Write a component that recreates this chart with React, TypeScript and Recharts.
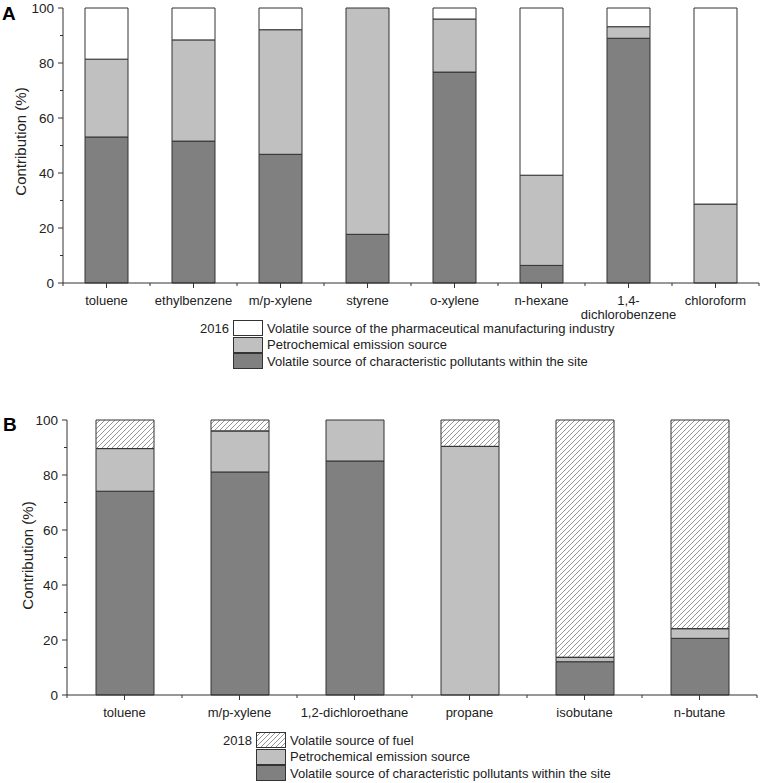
import React from "react";
import { BarChart, Bar, XAxis, YAxis } from "recharts";

// panel A (2016)
const categoriesA = [
  "toluene",
  "ethylbenzene",
  "m/p-xylene",
  "styrene",
  "o-xylene",
  "n-hexane",
  "1,4-\ndichlorobenzene",
  "chloroform",
];
const siteA = [53.1, 51.6, 46.8, 17.7, 76.7, 6.4, 89.0, 0];
const petroA = [28.3, 36.8, 45.3, 82.3, 19.3, 32.8, 4.2, 28.7];
const pharmaA = [18.6, 11.6, 7.9, 0, 4.0, 60.8, 6.8, 71.3];

// panel B (2018)
const categoriesB = [
  "toluene",
  "m/p-xylene",
  "1,2-dichloroethane",
  "propane",
  "isobutane",
  "n-butane",
];
const siteB = [74.1, 81.1, 85.1, 0, 12.1, 20.6];
const petroB = [15.5, 14.9, 14.9, 90.4, 1.6, 3.5];
const fuelB = [10.4, 4.0, 0, 9.6, 86.3, 75.9];

const yTicks = [0, 10, 20, 30, 40, 50, 60, 70, 80, 90, 100];

const legendA = [
  "Volatile source of the pharmaceutical manufacturing industry",
  "Petrochemical emission source",
  "Volatile source of characteristic pollutants within the site",
];
const legendB = [
  "Volatile source of fuel",
  "Petrochemical emission source",
  "Volatile source of characteristic pollutants within the site",
];

const FONT = '"Liberation Sans", Arial, sans-serif';
const AXIS = "#333";
const DARK = "#808080";
const LIGHT = "#c0c0c0";
const HATCH = "#8a8a8a";

const dataA = categoriesA.map((name, i) => ({
  name,
  site: siteA[i],
  petro: petroA[i],
  top: pharmaA[i],
}));
const dataB = categoriesB.map((name, i) => ({
  name,
  site: siteB[i],
  petro: petroB[i],
  top: fuelB[i],
}));

const makeXTick = (count: number) => (props: any) => {
  const { x, y, payload, index } = props;
  const half = payload.offset ?? 0;
  const lines = String(payload.value).split("\n");
  return (
    <g>
      <line x1={x} x2={x} y1={y} y2={y + 5} stroke={AXIS} />
      <line x1={x - half} x2={x - half} y1={y} y2={y + 3} stroke={AXIS} />
      {index === count - 1 && (
        <line x1={x + half} x2={x + half} y1={y} y2={y + 3} stroke={AXIS} />
      )}
      <text x={x} y={y + 22} textAnchor="middle" fontSize={13} fill="#222" fontFamily={FONT}>
        {lines.map((l, i) => (
          <tspan key={i} x={x} dy={i === 0 ? 0 : 14}>
            {l}
          </tspan>
        ))}
      </text>
    </g>
  );
};

const YTick = (props: any) => {
  const { x, y, payload } = props;
  const major = payload.value % 20 === 0;
  return (
    <g>
      <line x1={x - (major ? 5 : 3)} x2={x} y1={y} y2={y} stroke={AXIS} />
      {major && (
        <text x={x - 9} y={y} dy="0.35em" textAnchor="end" fontSize={13.5} fill="#222" fontFamily={FONT}>
          {payload.value}
        </text>
      )}
    </g>
  );
};

const yLabel = (dx: number, dy: number) => (props: any) => {
  const { viewBox } = props;
  const cx = viewBox.x + dx;
  const cy = viewBox.y + viewBox.height / 2 + dy;
  return (
    <text
      x={cx}
      y={cy}
      transform={`rotate(-90 ${cx} ${cy})`}
      textAnchor="middle"
      dominantBaseline="central"
      fontSize={15}
      fill="#222"
      fontFamily={FONT}
    >
      Contribution (%)
    </text>
  );
};

const Swatch = ({ fill, hatch }: { fill: string; hatch?: boolean }) => (
  <svg width={30} height={16} style={{ display: "block" }}>
    <defs>
      <pattern id="hatchLegend" patternUnits="userSpaceOnUse" width={5} height={5}>
        <path d="M-1,1 l2,-2 M0,5 l5,-5 M4,6 l2,-2" stroke={HATCH} strokeWidth={0.9} />
      </pattern>
    </defs>
    <rect x={0.5} y={0.5} width={29} height={15} fill={hatch ? "url(#hatchLegend)" : fill} stroke={AXIS} />
  </svg>
);

const LegendBox = ({
  left,
  top,
  year,
  items,
  fills,
  hatchFirst,
}: {
  left: number;
  top: number;
  year: string;
  items: string[];
  fills: string[];
  hatchFirst?: boolean;
}) => (
  <div style={{ position: "absolute", left, top, fontFamily: FONT, fontSize: 13, color: "#222" }}>
    {items.map((t, i) => (
      <div key={t + i} style={{ display: "flex", alignItems: "center", height: 16.5 }}>
        <div style={{ width: 34, textAlign: "right", paddingRight: 4 }}>{i === 0 ? year : ""}</div>
        <Swatch fill={fills[i]} hatch={hatchFirst && i === 0} />
        <div style={{ paddingLeft: 4, whiteSpace: "nowrap" }}>{t}</div>
      </div>
    ))}
  </div>
);

export default function App() {
  return (
    <div style={{ position: "absolute", left: 0, top: 0, width: 761, height: 783, background: "#fff" }}>
      <div style={{ position: "absolute", left: 0, top: 0 }}>
        <BarChart width={761} height={370} data={dataA} margin={{ top: 8, right: 2, left: 0, bottom: 0 }}>
          <XAxis
            dataKey="name"
            height={87}
            interval={0}
            tickSize={0}
            tickMargin={0}
            tickLine={false}
            stroke={AXIS}
            tick={makeXTick(categoriesA.length)}
          />
          <YAxis
            width={63}
            domain={[0, 100]}
            ticks={yTicks}
            interval={0}
            tickSize={0}
            tickMargin={0}
            tickLine={false}
            stroke={AXIS}
            tick={YTick}
            label={yLabel(20, -4)}
          />
          <Bar dataKey="site" stackId="a" fill={DARK} stroke={AXIS} barSize={43} isAnimationActive={false} />
          <Bar dataKey="petro" stackId="a" fill={LIGHT} stroke={AXIS} barSize={43} isAnimationActive={false} />
          <Bar dataKey="top" stackId="a" fill="#fff" stroke={AXIS} barSize={43} isAnimationActive={false} />
        </BarChart>
      </div>
      <div style={{ position: "absolute", left: 0, top: 370 }}>
        <BarChart width={761} height={413} data={dataB} margin={{ top: 50, right: 4, left: 0, bottom: 0 }}>
          <defs>
            <pattern id="hatchB" patternUnits="userSpaceOnUse" width={5} height={5}>
              <path d="M-1,1 l2,-2 M0,5 l5,-5 M4,6 l2,-2" stroke={HATCH} strokeWidth={0.9} />
            </pattern>
          </defs>
          <XAxis
            dataKey="name"
            height={88}
            interval={0}
            tickSize={0}
            tickMargin={0}
            tickLine={false}
            stroke={AXIS}
            tick={makeXTick(categoriesB.length)}
          />
          <YAxis
            width={67}
            domain={[0, 100]}
            ticks={yTicks}
            interval={0}
            tickSize={0}
            tickMargin={0}
            tickLine={false}
            stroke={AXIS}
            tick={YTick}
            label={yLabel(27, -2)}
          />
          <Bar dataKey="site" stackId="b" fill={DARK} stroke={AXIS} barSize={58} isAnimationActive={false} />
          <Bar dataKey="petro" stackId="b" fill={LIGHT} stroke={AXIS} barSize={58} isAnimationActive={false} />
          <Bar dataKey="top" stackId="b" fill="url(#hatchB)" stroke={AXIS} barSize={58} isAnimationActive={false} />
        </BarChart>
      </div>
      <div style={{ position: "absolute", left: 2, top: 3, fontFamily: FONT, fontWeight: "bold", fontSize: 19 }}>A</div>
      <div style={{ position: "absolute", left: 3, top: 414, fontFamily: FONT, fontWeight: "bold", fontSize: 19 }}>B</div>
      <LegendBox left={195} top={320} year="2016" items={legendA} fills={["#fff", LIGHT, DARK]} />
      <LegendBox left={218} top={732} year="2018" items={legendB} fills={["#fff", LIGHT, DARK]} hatchFirst />
    </div>
  );
}
